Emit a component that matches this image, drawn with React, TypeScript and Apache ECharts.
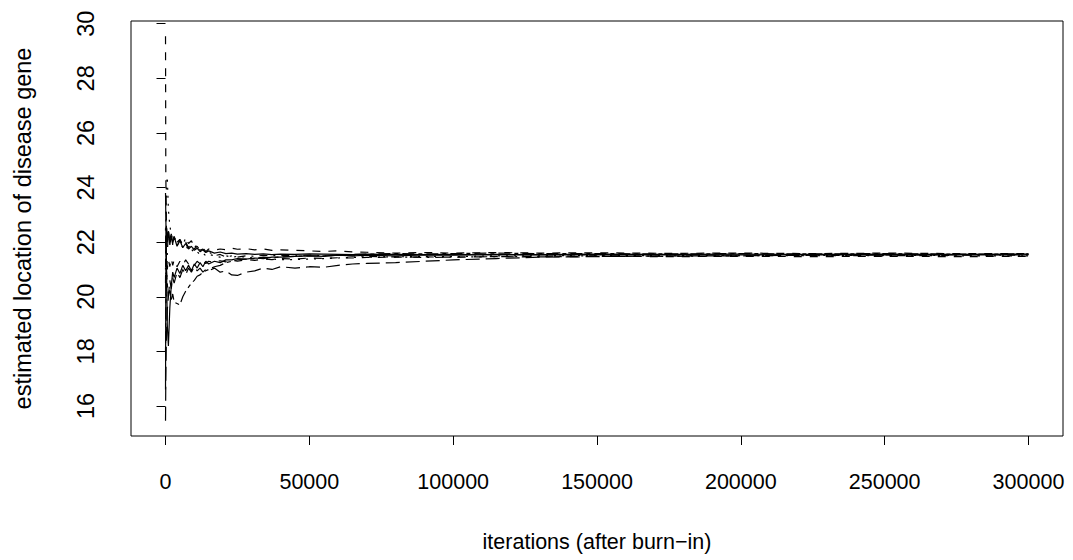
import React, { useEffect, useRef } from "react";
import * as echarts from "echarts";

// iterations (after burn-in) at which each trace is sampled
const iterations = [
  0, 100, 300, 600, 1000, 1500, 2000, 2500, 3000, 4000, 5000, 6000, 7000, 8000, 9000, 10000,
  11000, 12000, 13000, 14000, 15000, 17000, 19000, 21000, 23000, 25000, 28000, 31000, 34000,
  37000, 40000, 45000, 50000, 55000, 60000, 65000, 70000, 80000, 90000, 100000, 115000, 130000,
  150000, 175000, 200000, 225000, 250000, 275000, 300000,
];

const chain1 = [
  23.8, 23.0, 21.5, 19.0, 18.2, 19.6, 20.4, 20.9, 20.7, 21.05, 20.85, 21.15, 20.95, 21.15, 20.95, 21.2,
  21.05, 21.25, 21.1, 21.3, 21.2, 21.3, 21.25, 21.35, 21.35, 21.4, 21.38, 21.42, 21.4,
  21.45, 21.45, 21.48, 21.5, 21.48, 21.52, 21.5, 21.52, 21.5, 21.53, 21.52, 21.55, 21.54,
  21.56, 21.55, 21.56, 21.55, 21.56, 21.55, 21.56,
];
const chain2 = [
  29.54, 24.5, 22.8, 22.0, 22.4, 22.1, 22.3, 22.0, 22.2, 21.9, 22.1, 21.85, 22.0, 21.8, 21.95, 21.75,
  21.85, 21.7, 21.8, 21.65, 21.75, 21.7, 21.75, 21.72, 21.78, 21.74, 21.76, 21.72, 21.75,
  21.7, 21.72, 21.7, 21.68, 21.66, 21.68, 21.64, 21.63, 21.6, 21.62, 21.6, 21.62, 21.6,
  21.61, 21.59, 21.6, 21.58, 21.6, 21.58, 21.58,
];
const chain3 = [
  21.0, 22.5, 24.0, 24.4, 23.2, 22.6, 22.3, 22.1, 22.2, 21.9, 22.0, 21.8, 21.9, 21.7, 21.75, 21.6,
  21.65, 21.55, 21.6, 21.5, 21.55, 21.5, 21.45, 21.5, 21.45, 21.48, 21.45, 21.42, 21.4,
  21.38, 21.36, 21.36, 21.38, 21.4, 21.42, 21.44, 21.45, 21.46, 21.48, 21.47, 21.5, 21.5,
  21.52, 21.5, 21.52, 21.5, 21.52, 21.5, 21.5,
];
const chain4 = [
  22.5, 21.0, 20.0, 21.5, 22.5, 22.0, 22.3, 21.9, 22.2, 22.0, 22.1, 21.9, 22.15, 21.95, 22.05, 21.8,
  21.9, 21.7, 21.75, 21.6, 21.65, 21.5, 21.55, 21.45, 21.5, 21.45, 21.5, 21.48, 21.52,
  21.5, 21.52, 21.5, 21.53, 21.5, 21.52, 21.5, 21.48, 21.46, 21.44, 21.45, 21.47, 21.48,
  21.5, 21.48, 21.5, 21.52, 21.5, 21.52, 21.52,
];
const chain5 = [
  15.46, 17.0, 18.5, 19.5, 20.0, 20.6, 20.3, 20.7, 20.5, 20.9, 20.7, 21.0, 20.8, 21.05, 20.9, 21.1,
  20.95, 21.05, 20.9, 21.0, 20.95, 21.05, 20.9, 20.95, 20.8, 20.78, 20.9, 20.95, 21.05,
  21.0, 21.1, 21.05, 21.1, 21.08, 21.15, 21.2, 21.22, 21.25, 21.3, 21.35, 21.4, 21.45,
  21.47, 21.5, 21.5, 21.52, 21.53, 21.54, 21.55,
];
const chain6 = [
  18.0, 19.5, 21.0, 20.5, 20.0, 20.3, 19.9, 20.1, 19.8, 19.75, 19.7, 20.0, 20.2, 20.35, 20.5, 20.6,
  20.75, 20.8, 20.9, 20.95, 21.0, 21.1, 21.15, 21.25, 21.3, 21.35, 21.38, 21.4, 21.45,
  21.43, 21.46, 21.48, 21.5, 21.5, 21.52, 21.55, 21.56, 21.58, 21.57, 21.58, 21.6, 21.58,
  21.58, 21.57, 21.58, 21.57, 21.58, 21.56, 21.57,
];
const chain7 = [
  16.6, 20.5, 22.6, 22.0, 22.35, 21.9, 22.25, 21.95, 22.2, 21.85, 22.05, 21.8, 21.95, 21.75, 21.85, 21.7,
  21.78, 21.65, 21.72, 21.62, 21.68, 21.6, 21.64, 21.58, 21.6, 21.56, 21.58, 21.55, 21.57,
  21.54, 21.56, 21.55, 21.57, 21.56, 21.55, 21.54, 21.56, 21.55, 21.54, 21.55, 21.53, 21.54,
  21.53, 21.54, 21.53, 21.54, 21.53, 21.54, 21.53,
];
const chain8 = [
  20.5, 22.0, 21.4, 21.0, 21.35, 21.1, 21.4, 21.15, 21.35, 21.1, 21.3, 21.15, 21.35, 21.2, 21.3, 21.15,
  21.3, 21.2, 21.32, 21.22, 21.3, 21.25, 21.32, 21.28, 21.34, 21.3, 21.36, 21.33, 21.38,
  21.36, 21.4, 21.38, 21.42, 21.4, 21.43, 21.42, 21.44, 21.45, 21.46, 21.45, 21.47, 21.46,
  21.48, 21.47, 21.48, 21.47, 21.48, 21.47, 21.48,
];

const chains = [chain1, chain2, chain3, chain4, chain5, chain6, chain7, chain8];
const xTicks = [0, 50000, 100000, 150000, 200000, 250000, 300000];
const yTicks = [16, 18, 20, 22, 24, 26, 28, 30];

// R-like line types (lty 1..6, then cycling)
const dashes: (string | number[])[] = [
  "solid", [8, 8], [2, 6], [2, 6, 8, 6], [14, 6], [4, 4, 12, 4], "solid", [8, 8],
];

const FONT = "'Liberation Sans', Arial, Helvetica, sans-serif";

export default function App() {
  const ref = useRef<HTMLDivElement>(null);
  useEffect(() => {
    if (!ref.current) return;
    const chart = echarts.init(ref.current, undefined, { renderer: "svg" });
    const xText = { color: "#000", fontFamily: FONT, fontSize: 21.5 };
    const yText = { color: "#000", fontFamily: FONT, fontSize: 23.5 };
    chart.setOption({
      animation: false,
      backgroundColor: "#fff",
      grid: {
        left: 131,
        top: 21,
        width: 932,
        height: 415,
        show: true,
        borderColor: "#000",
        borderWidth: 1,
        backgroundColor: "transparent",
      },
      xAxis: {
        type: "value",
        min: -12000,
        max: 312000,
        name: "iterations (after burn\u2212in)",
        nameLocation: "middle",
        nameGap: 95,
        nameTextStyle: xText,
        axisLine: { show: false },
        splitLine: { show: false },
        axisTick: { show: true, length: 9, customValues: xTicks, lineStyle: { color: "#000", width: 1 } },
        axisLabel: { ...xText, margin: 35, customValues: xTicks, formatter: (v: number) => String(v) },
      },
      yAxis: {
        type: "value",
        min: 14.9,
        max: 30.1,
        name: "estimated location of disease gene",
        nameLocation: "middle",
        nameRotate: 90,
        nameGap: 96,
        nameTextStyle: yText,
        axisLine: { show: false },
        splitLine: { show: false },
        axisTick: { show: true, length: 9, customValues: yTicks, lineStyle: { color: "#000", width: 1 } },
        axisLabel: { ...yText, rotate: 90, margin: 33, customValues: yTicks, formatter: (v: number) => String(v) },
      },
      series: chains.map((c, i) => ({
        type: "line",
        name: "chain " + (i + 1),
        symbol: "none",
        silent: true,
        data: iterations.map((x, j) => [x, c[j]]),
        lineStyle: { color: "#000", width: 1.2, type: dashes[i] },
      })),
    });
    return () => chart.dispose();
  }, []);
  return (
    <div
      ref={ref}
      style={{ position: "fixed", left: 0, top: 0, width: 1073, height: 560, background: "#fff" }}
    />
  );
}
